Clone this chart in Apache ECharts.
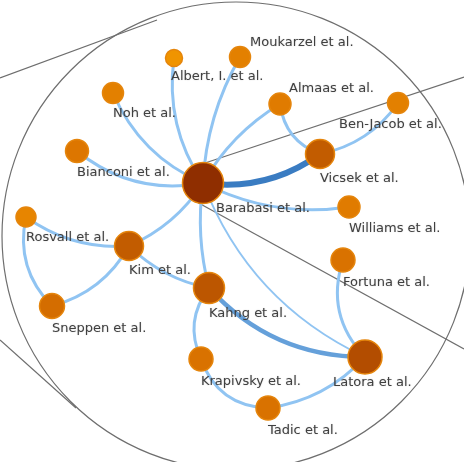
<!DOCTYPE html>
<html>
<head>
<meta charset="utf-8">
<script src="https://cdn.jsdelivr.net/npm/echarts@6/dist/echarts.min.js"></script>
<style>
html,body{margin:0;padding:0;background:#fff;}
#chart{width:464px;height:462px;}
</style>
</head>
<body>
<div id="chart"></div>
<script>
// ---- data ----
const nodeNames = ['Barabasi et al.', 'Vicsek et al.', 'Almaas et al.', 'Ben-Jacob et al.', 'Moukarzel et al.',
  'Albert, I. et al.', 'Noh et al.', 'Bianconi et al.', 'Williams et al.', 'Rosvall et al.', 'Kim et al.',
  'Sneppen et al.', 'Kahng et al.', 'Krapivsky et al.', 'Fortuna et al.', 'Latora et al.', 'Tadic et al.'];
const nodeX = [203, 320, 280, 398, 240, 174, 113, 77, 349, 26, 129, 52, 209, 201, 343, 365, 268];
const nodeY = [183, 154, 104, 103, 57, 58, 93, 151, 207, 217, 246, 306, 288, 359, 260, 357, 408];
const nodeValue = [41, 29, 22, 21, 21, 17, 21, 23, 22, 20, 29, 25, 31, 24, 24, 34, 24];

const edgeSource = [0, 0, 0, 0, 0, 0, 0, 0, 0, 0, 2, 3, 10, 9, 10, 10, 12, 12, 13, 16, 14];
const edgeTarget = [1, 8, 15, 12, 10, 6, 7, 5, 4, 2, 1, 1, 9, 11, 11, 12, 15, 13, 16, 15, 15];
const edgeWeight = [2.5, 1, 0.5, 1, 1, 1, 1, 1, 1, 1, 1, 1, 1, 1, 1, 1, 1.75, 1, 1, 1, 1];

// ---- styles ----
const edgeCurve = [-0.2, -0.16, -0.2, -0.1, 0.15, 0.2, 0.23, 0.19, 0.12, 0.13, -0.3, 0.2, 0.18, -0.27, 0.21, -0.15, -0.22, -0.3, -0.34, -0.18, -0.3];
const labelStyle = {
  0: {offset: [13, -5]},
  2: {position: 'top', offset: [9, 6]},
  3: {offset: [-59, 1]},
  4: {position: 'top', offset: [10, 6]},
  5: {offset: [-3, 0]},
  15: {offset: [-32, -2]}
};

function hex(c) { return [parseInt(c.slice(1,3),16), parseInt(c.slice(3,5),16), parseInt(c.slice(5,7),16)]; }
function lerpColor(t, stops) {
  t = Math.max(0, Math.min(1, t));
  const p = t * (stops.length - 1);
  const i = Math.min(stops.length - 2, Math.floor(p));
  const f = p - i;
  const a = hex(stops[i]), b = hex(stops[i + 1]);
  return 'rgb(' + a.map((v, k) => Math.round(v + (b[k] - v) * f)).join(',') + ')';
}
const nodeColors = ['#F09400', '#DD7600', '#C25C00', '#B04A00', '#8F2E00'];
const vMin = Math.min(...nodeValue), vMax = Math.max(...nodeValue);

const nodes = nodeNames.map((n, i) => {
  const item = {
    name: n,
    value: [nodeX[i], nodeY[i]],
    symbolSize: nodeValue[i],
    itemStyle: { color: lerpColor((nodeValue[i] - vMin) / (vMax - vMin), nodeColors) }
  };
  if (labelStyle[i]) item.label = labelStyle[i];
  return item;
});

const links = edgeSource.map((s, i) => {
  const w = edgeWeight[i];
  return {
    source: s,
    target: edgeTarget[i],
    value: w,
    lineStyle: {
      width: 1 + 2 * w,
      color: lerpColor((w - 1) / 1.5, ['#90C4F2', '#3A7CC2']),
      curveness: edgeCurve[i],
      opacity: 1
    }
  };
});

const chart = echarts.init(document.getElementById('chart'), null, {renderer: 'canvas'});
chart.setOption({
  backgroundColor: '#ffffff',
  animation: false,
  grid: {left: 0, right: 0, top: 0, bottom: 0},
  xAxis: {type: 'value', min: 0, max: 464, show: false},
  yAxis: {type: 'value', min: 0, max: 462, inverse: true, show: false},
  graphic: [
    {type: 'circle', silent: true, z: 0, shape: {cx: 236, cy: 236, r: 234},
      style: {fill: 'none', stroke: '#6e6e6e', lineWidth: 1.2}},
    {type: 'line', silent: true, z: 0, shape: {x1: 0, y1: 78, x2: 157, y2: 20},
      style: {stroke: '#6e6e6e', lineWidth: 1.2}},
    {type: 'line', silent: true, z: 0, shape: {x1: 0, y1: 340, x2: 76, y2: 408},
      style: {stroke: '#6e6e6e', lineWidth: 1.2}},
    {type: 'line', silent: true, z: 0, shape: {x1: 205, y1: 163, x2: 464, y2: 77},
      style: {stroke: '#6e6e6e', lineWidth: 1.2}},
    {type: 'line', silent: true, z: 0, shape: {x1: 195, y1: 201, x2: 464, y2: 349},
      style: {stroke: '#6e6e6e', lineWidth: 1.2}}
  ],
  series: [{
    type: 'graph',
    layout: 'none',
    coordinateSystem: 'cartesian2d',
    z: 3,
    roam: false,
    symbol: 'circle',
    emphasis: {disabled: true},
    itemStyle: {borderColor: '#E5850C', borderWidth: 1.5},
    label: {
      show: true,
      position: 'bottom',
      align: 'left',
      distance: 3,
      fontFamily: 'DejaVu Sans',
      fontSize: 13,
      color: '#404040',
      textShadowColor: 'rgba(0,0,0,0.2)',
      textShadowBlur: 1.5,
      formatter: '{b}'
    },
    data: nodes,
    links: links
  }]
});
</script>
</body>
</html>
